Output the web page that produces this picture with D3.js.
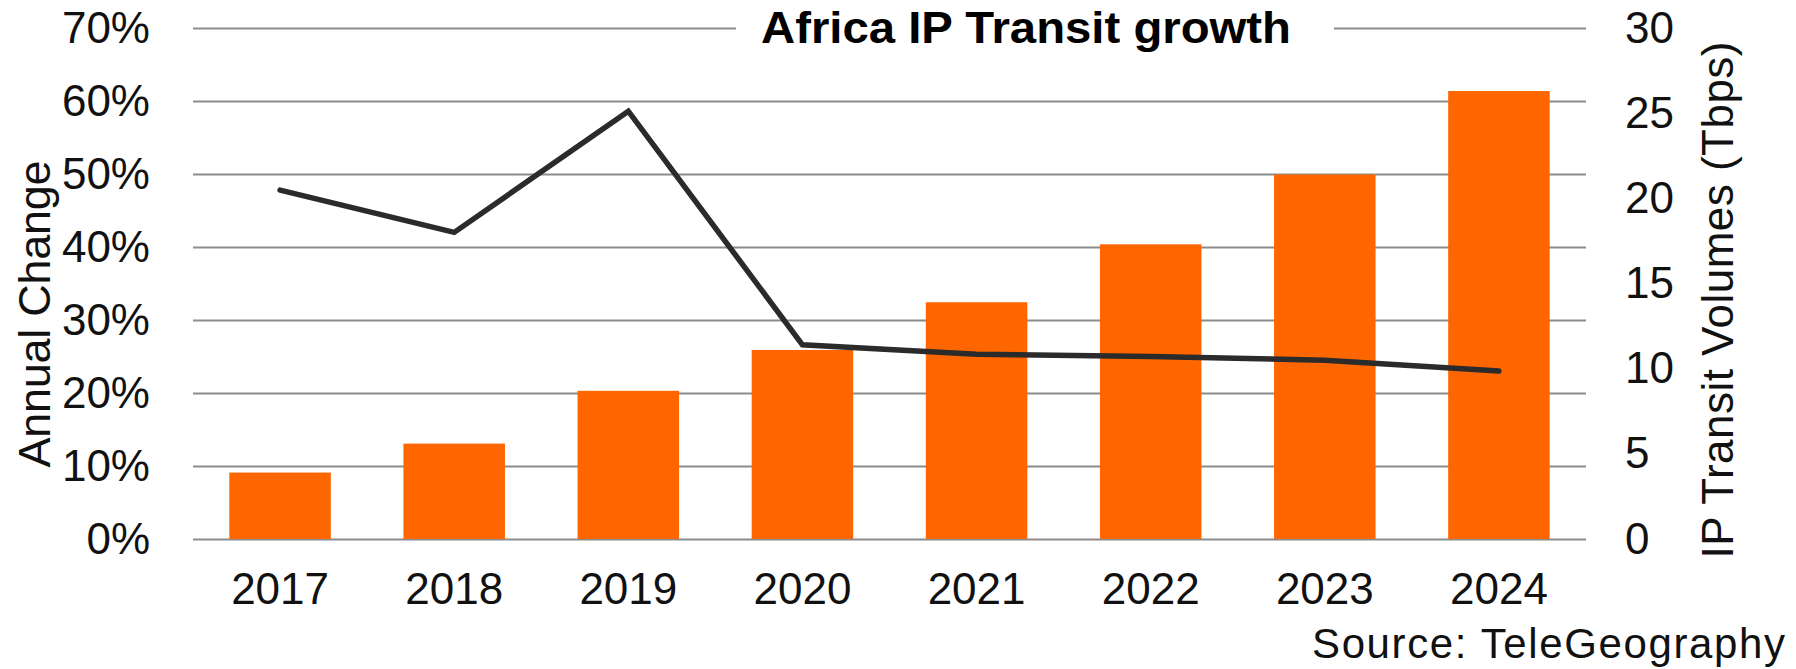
<!DOCTYPE html>
<html>
<head>
<meta charset="utf-8">
<script src="https://cdn.jsdelivr.net/npm/d3@7"></script>
<style>
  html, body { margin: 0; padding: 0; background: #fff; }
  svg { display: block; font-family: "Liberation Sans", Arial, sans-serif; }
  .grid line { stroke: #8c8c8c; stroke-width: 2; }
  .grid path { display: none; }
  .ticklbl text { font-size: 44px; fill: #111; }
  .ticklbl path, .ticklbl line { display: none; }
</style>
</head>
<body>
<div id="chart"></div>
<script>
var years = ["2017", "2018", "2019", "2020", "2021", "2022", "2023", "2024"];
var volumes = [3.9, 5.6, 8.7, 11.1, 13.9, 17.3, 21.4, 26.3];   // Tbps, bars
var growth = [47.8, 42.0, 58.6, 26.6, 25.3, 25.0, 24.5, 23.0]; // annual change %, line
var pctTicks = [0, 10, 20, 30, 40, 50, 60, 70];
var volTicks = [0, 5, 10, 15, 20, 25, 30];

var W = 1796, H = 669;
var margin = {top: 28, right: 210, bottom: 130, left: 193};
var width = W - margin.left - margin.right;
var height = H - margin.top - margin.bottom;

var svg = d3.select("#chart").append("svg")
    .attr("width", W)
    .attr("height", H);

var g = svg.append("g")
    .attr("transform", "translate(" + margin.left + "," + margin.top + ")");

var x = d3.scaleBand()
    .domain(years)
    .range([0, width])
    .paddingInner(0.417)
    .paddingOuter(0.2085);

var yL = d3.scaleLinear().domain([0, 70]).range([height, 0]);
var yR = d3.scaleLinear().domain([0, 30]).range([height, 0]);

// gridlines follow the left axis
g.append("g")
    .attr("class", "grid")
    .call(d3.axisLeft(yL).tickValues(pctTicks).tickSize(-width).tickFormat(""));

// bars
g.selectAll(".bar")
    .data(years)
    .enter().append("rect")
    .attr("class", "bar")
    .attr("x", function(d) { return x(d); })
    .attr("width", x.bandwidth())
    .attr("y", function(d, i) { return yR(volumes[i]); })
    .attr("height", function(d, i) { return height - yR(volumes[i]); })
    .attr("fill", "#ff6600");

// growth line
var line = d3.line()
    .x(function(d, i) { return x(years[i]) + x.bandwidth() / 2; })
    .y(function(d) { return yL(d); });

g.append("path")
    .datum(growth)
    .attr("d", line)
    .attr("fill", "none")
    .attr("stroke", "#2b2b2b")
    .attr("stroke-width", 5.5)
    .attr("stroke-linejoin", "miter")
    .attr("stroke-linecap", "round");

// axes (labels only)
g.append("g")
    .attr("class", "ticklbl")
    .call(d3.axisLeft(yL).tickValues(pctTicks).tickSize(0).tickPadding(43)
        .tickFormat(function(d) { return d + "%"; }));

g.append("g")
    .attr("class", "ticklbl")
    .attr("transform", "translate(" + width + ",0)")
    .call(d3.axisRight(yR).tickValues(volTicks).tickSize(0).tickPadding(39));

g.append("g")
    .attr("class", "ticklbl")
    .attr("transform", "translate(0," + height + ")")
    .call(d3.axisBottom(x).tickSize(0).tickPadding(34));

// axis titles
svg.append("text")
    .attr("transform", "translate(50,314) rotate(-90)")
    .attr("text-anchor", "middle")
    .style("font-size", "45px")
    .style("fill", "#111")
    .attr("textLength", 307)
    .attr("lengthAdjust", "spacing")
    .text("Annual Change");

svg.append("text")
    .attr("transform", "translate(1733,300) rotate(-90)")
    .attr("text-anchor", "middle")
    .style("font-size", "44px")
    .style("fill", "#111")
    .attr("textLength", 517)
    .attr("lengthAdjust", "spacing")
    .text("IP Transit Volumes (Tbps)");

// title sits on the top gridline with a white backing
svg.append("rect")
    .attr("x", 736)
    .attr("y", 14)
    .attr("width", 598)
    .attr("height", 30)
    .attr("fill", "#fff");

svg.append("text")
    .attr("x", 1026)
    .attr("y", 43)
    .attr("text-anchor", "middle")
    .style("font-family", "'Liberation Sans Narrow', 'Arial Narrow', 'Liberation Sans', Arial, sans-serif")
    .style("font-weight", "bold")
    .style("font-size", "44px")
    .style("fill", "#000")
    .attr("textLength", 530)
    .attr("lengthAdjust", "spacingAndGlyphs")
    .text("Africa IP Transit growth");

svg.append("text")
    .attr("x", 1785)
    .attr("y", 658)
    .attr("text-anchor", "end")
    .style("font-size", "42px")
    .style("fill", "#111")
    .attr("textLength", 473)
    .attr("lengthAdjust", "spacing")
    .text("Source: TeleGeography");
</script>
</body>
</html>
